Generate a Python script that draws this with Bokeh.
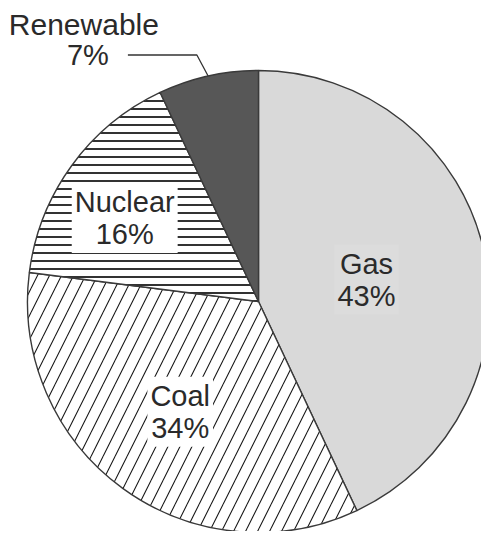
import math
from bokeh.plotting import figure
from bokeh.models import ColumnDataSource, Range1d
from bokeh.core.properties import value
from bokeh.embed import file_html
from bokeh.resources import INLINE

# ---- data ----
categories = ["Gas", "Coal", "Nuclear", "Renewable"]
shares = [43, 34, 16, 7]
pct_labels = ["43%", "34%", "16%", "7%"]

# ---- styles ----
fills = ["#d9d9d9", "#ffffff", "#ffffff", "#575757"]
hatches = [" ", "/", "-", " "]
hatch_weights = [1, 1.1, 1.8, 1]
hatch_scales = [12, 24, 8, 12]
label_radius_frac = [0.477, 0.585, 0.683]
label_angle_offset_deg = [-1.1, 0.6, 4.0]
FONT = value("Liberation Sans")
FS = "29px"

R = 231.0
total = float(sum(shares))
starts, ends, mids = [], [], []
cum = 0.0
for s in shares:
    a0 = math.pi / 2 - 2 * math.pi * cum / total
    cum += s
    a1 = math.pi / 2 - 2 * math.pi * cum / total
    starts.append(a0)
    ends.append(a1)
    mids.append((a0 + a1) / 2)

src = ColumnDataSource(dict(cat=categories, start=starts, end=ends, fill=fills,
                            hatch=hatches, hs=hatch_scales, hw=hatch_weights))

p = figure(width=481, height=531, output_backend="svg", toolbar_location=None,
           x_range=Range1d(-258, 223), y_range=Range1d(-230, 301),
           min_border=0)
p.axis.visible = False
p.grid.visible = False
p.outline_line_color = None
p.background_fill_color = "white"

p.wedge(x=0, y=0, radius=R, start_angle="start", end_angle="end", direction="clock",
        source=src, fill_color="fill", line_color="#3a3a3a", line_width=1.4,
        hatch_pattern="hatch", hatch_scale="hs", hatch_weight="hw", hatch_color="#1a1a1a")

# inner labels
lx, ly, lt = [], [], []
for i in range(3):
    r = R * label_radius_frac[i]
    a = mids[i] + math.radians(label_angle_offset_deg[i])
    lx.append(r * math.cos(a))
    ly.append(r * math.sin(a))
    lt.append(categories[i] + "\n" + pct_labels[i])
bgs = ["#dcdcdc", "white", "white"]
lsrc = ColumnDataSource(dict(x=lx, y=ly, t=lt, bg=bgs))
p.text(x="x", y="y", text="t", source=lsrc, text_align="center", text_baseline="middle",
       text_font=FONT, text_font_size=FS, text_color="#2a2a2a",
       text_line_height=1.0, background_fill_color="bg", padding=3)

# renewable leader + label
m = mids[3]
ex, ey = R * math.cos(m), R * math.sin(m)
kx, ky = (R * 1.1) * math.cos(m + 0.025), (R * 1.1) * math.sin(m + 0.025)
hx = kx - 69
p.line(x=[ex, kx, hx], y=[ey, ky, ky], line_color="#333333", line_width=1.3)
p.text(x=[hx - 19], y=[ky], text=[pct_labels[3]], text_align="right", text_baseline="middle",
       text_font=FONT, text_font_size=FS, text_color="#2a2a2a")
p.text(x=[hx - 44], y=[ky + 30], text=[categories[3]], text_align="center", text_baseline="middle",
       text_font=FONT, text_font_size="30px", text_color="#2a2a2a")

open("out.html", "w").write(file_html(p, INLINE))
